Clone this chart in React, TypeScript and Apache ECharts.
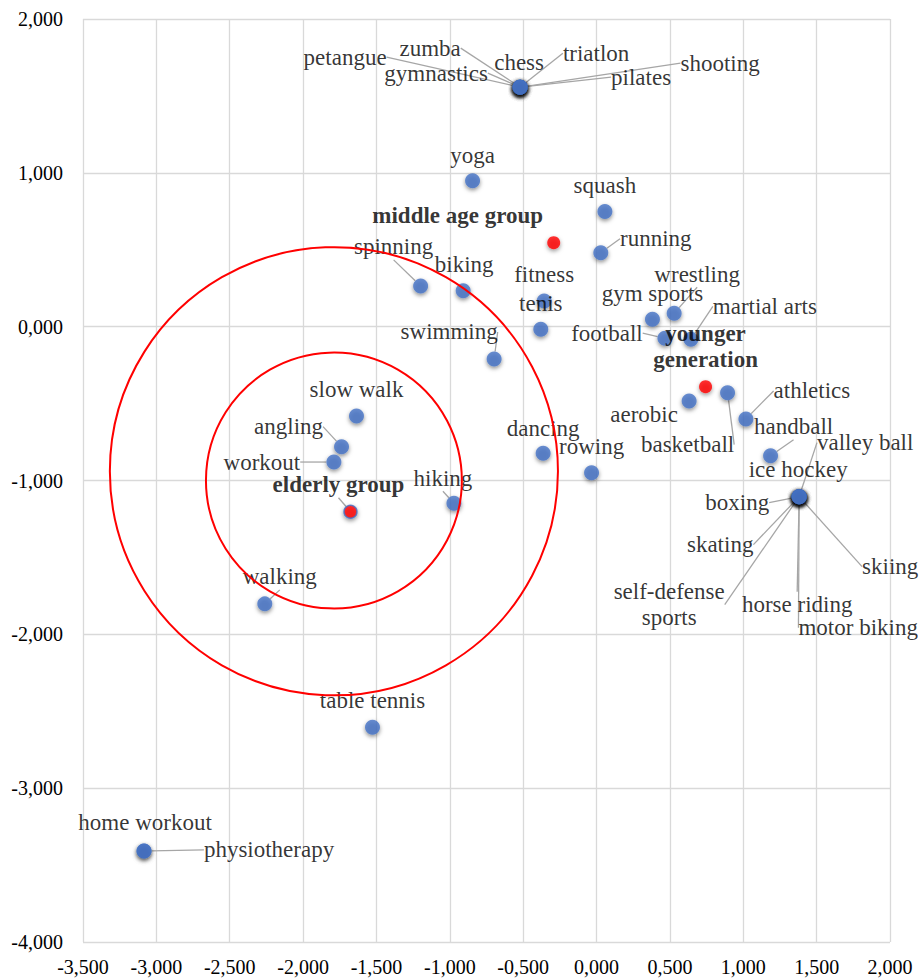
import React, { useEffect, useRef } from "react";
import * as echarts from "echarts";

// ---- data ----
const sportNames = [
  "petangue", "zumba", "chess", "triatlon", "gymnastics", "pilates", "shooting",
  "yoga", "squash", "running", "spinning", "biking", "fitness", "tenis", "swimming",
  "gym sports", "wrestling", "football", "martial arts", "aerobic", "basketball",
  "athletics", "handball",
  "valley ball", "ice hockey", "boxing", "skating", "self-defense\nsports", "horse riding", "motor biking", "skiing",
  "dancing", "rowing", "slow walk", "angling", "workout", "hiking", "walking",
  "table tennis", "home workout", "physiotherapy",
];
const sportX = [
  -521, -521, -521, -521, -521, -521, -521,
  -845, 57, 29, -1199, -909, -357, -380, -698,
  381, 529, 466, 643, 631, 893,
  1018, 1186,
  1381, 1381, 1381, 1381, 1381, 1381, 1381, 1381,
  -364, -34, -1636, -1738, -1790, -972, -2261,
  -1527, -3084, -3084,
];
const sportY = [
  1557, 1557, 1557, 1557, 1557, 1557, 1557,
  949, 748, 481, 265, 234, 167, -17, -210,
  48, 87, -75, -82, -483, -429,
  -600, -839,
  -1105, -1105, -1105, -1105, -1105, -1105, -1105, -1105,
  -823, -949, -580, -780, -880, -1148, -1802,
  -2604, -3408, -3408,
];

const groupNames = ["middle age group", "younger\ngeneration", "elderly group"];
const groupX = [-292, 743, -1677];
const groupY = [546, -390, -1203];

const circleX = [-1790, -1790];
const circleY = [-1000, -940];
const circleR = [872, 1527];

const xMin = -3500, xMax = 2000, xStep = 500;
const yMin = -4000, yMax = 2000, yStep = 1000;

// ---- label placement (pixel offsets from the marker centre) ----
const sportLabelDx = [
  -175, -90, -1, 76, -84, 121, 200,
  0, 0, 55, -27, 1, 0, 0, -45,
  0, 23, -58, 74, -45, -40,
  66, 23,
  66, -1, -62, -79, -130, -2, 59, 91,
  0, 0, 0, -53, -72, -11, 15,
  0, 1, 125,
];
const sportLabelDy = [
  -30, -39, -25, -34, -14, -10, -24,
  -25, -26, -14, -39, -26, -26, -26, -27,
  -26, -39, -5, -33, 14, 52,
  -28, -29,
  -54, -27, 6, 48, 108, 108, 131, 70,
  -25, -26, -26, -20, 0, -25, -27,
  -27, -28, -1,
];
const sportLeader = [
  1, 1, 0, 1, 1, 1, 1,
  0, 0, 1, 1, 0, 0, 0, 1,
  0, 1, 1, 1, 0, 1,
  1, 1,
  1, 0, 1, 1, 1, 1, 1, 1,
  0, 0, 0, 1, 1, 1, 1,
  0, 0, 1,
];
const groupLabelDx = [-96, 0, -12];
const groupLabelDy = [-27, -40, -27];
const groupLeader = [0, 0, 1];

const fmt = (v: number) => (v / 1000).toFixed(3).replace(".", ",");

export default function App() {
  const ref = useRef<HTMLDivElement>(null);
  useEffect(() => {
    const chart = echarts.init(ref.current!, null, { renderer: "svg" });
    const serif = "Liberation Serif";
    const leaderStyle = { color: "#A6A6A6", width: 1.3 };

    const sportData = sportNames.map((n, i) => ({
      name: n,
      value: [sportX[i], sportY[i]],
      labelLine: { show: !!sportLeader[i] },
    }));
    const groupData = groupNames.map((n, i) => ({
      name: n,
      value: [groupX[i], groupY[i]],
      labelLine: { show: !!groupLeader[i] },
      itemStyle: i === 2 ? { borderColor: "#4472C4", borderWidth: 1.5 } : undefined,
    }));

    const layoutFrom = (dx: number[], dy: number[]) => (p: any) => {
      const i = p.dataIndex;
      return {
        x: p.rect.x + p.rect.width / 2 + dx[i],
        y: p.rect.y + p.rect.height / 2 + dy[i],
        align: "center",
        verticalAlign: "middle",
      };
    };

    chart.setOption({
      animation: false,
      backgroundColor: "#FFFFFF",
      textStyle: { fontFamily: serif },
      grid: { left: 83, top: 19, right: 31, bottom: 37, containLabel: false },
      xAxis: {
        type: "value",
        min: xMin,
        max: xMax,
        interval: xStep,
        axisLine: { show: false },
        axisTick: { show: false },
        splitLine: { show: true, lineStyle: { color: "#D9D9D9", width: 1.3 } },
        axisLabel: { fontFamily: serif, fontSize: 20, color: "#000", margin: 15, formatter: fmt },
      },
      yAxis: {
        type: "value",
        min: yMin,
        max: yMax,
        interval: yStep,
        axisLine: { show: false },
        axisTick: { show: false },
        splitLine: { show: true, lineStyle: { color: "#D9D9D9", width: 1.3 } },
        axisLabel: { fontFamily: serif, fontSize: 20, color: "#000", margin: 20, formatter: fmt },
      },
      series: [
        {
          type: "scatter",
          data: sportData,
          symbolSize: 15,
          itemStyle: {
            color: "#4472C4",
            shadowBlur: 4,
            shadowColor: "rgba(0,0,0,0.55)",
            shadowOffsetY: 2,
          },
          label: {
            show: true,
            formatter: "{b}",
            fontFamily: serif,
            fontSize: 23,
            lineHeight: 26,
            color: "#000",
          },
          labelLine: { show: true, lineStyle: leaderStyle },
          labelLayout: layoutFrom(sportLabelDx, sportLabelDy),
          z: 2,
        },
        {
          type: "scatter",
          data: groupData,
          symbolSize: 13,
          itemStyle: {
            color: "#FF0000",
            shadowBlur: 4,
            shadowColor: "rgba(0,0,0,0.5)",
            shadowOffsetY: 2,
          },
          label: {
            show: true,
            formatter: "{b}",
            fontFamily: serif,
            fontSize: 23,
            lineHeight: 26,
            fontWeight: "bold",
            color: "#000",
          },
          labelLine: { show: true, lineStyle: leaderStyle },
          labelLayout: layoutFrom(groupLabelDx, groupLabelDy),
          z: 3,
        },
        {
          type: "custom",
          silent: true,
          z: 6,
          data: circleX.map((x, i) => [x, circleY[i], circleR[i]]),
          renderItem: (params: any, api: any) => {
            const c = api.coord([api.value(0), api.value(1)]);
            const r = api.size([api.value(2), 0])[0];
            return {
              type: "circle",
              shape: { cx: c[0], cy: c[1], r },
              style: { fill: "none", stroke: "#FF0000", lineWidth: 2 },
            };
          },
        },
      ],
    });
    return () => chart.dispose();
  }, []);
  return (
    <div
      ref={ref}
      style={{ position: "fixed", left: 0, top: 0, width: 921, height: 979, background: "#fff" }}
    />
  );
}
